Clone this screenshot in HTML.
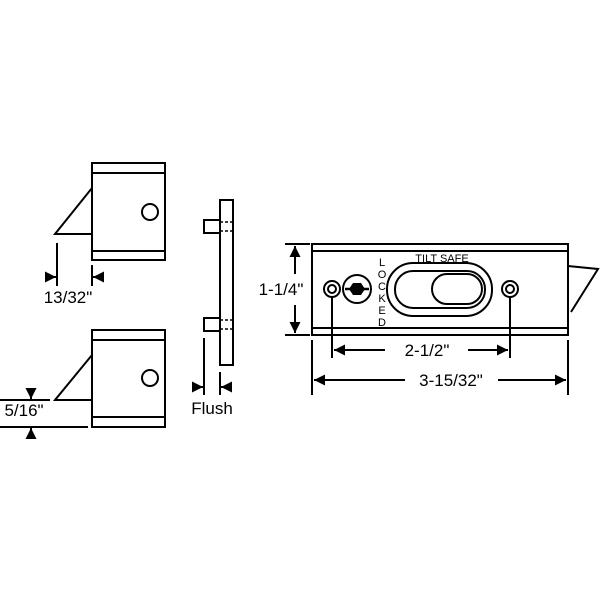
<!DOCTYPE html>
<html><head><style>body{margin:0;background:#fff}svg{display:block}</style></head><body>
<svg width="600" height="600" viewBox="0 0 600 600" xmlns="http://www.w3.org/2000/svg" font-family="Liberation Sans, sans-serif">
<defs>
<marker id="a" viewBox="0 0 10 10" refX="10" refY="5" markerWidth="5.5" markerHeight="5.5" orient="auto-start-reverse"><path d="M0,0L10,5L0,10z" fill="#000"/></marker>
</defs>
<g stroke="#000" stroke-width="2" fill="none">
<rect x="92" y="163" width="73" height="97"/>
<line x1="92" y1="173" x2="165" y2="173"/><line x1="92" y1="251" x2="165" y2="251"/>
<polyline points="92,188 55,234 92,234"/>
<circle cx="150" cy="212" r="8"/>
<line x1="57" y1="243" x2="57" y2="286"/><line x1="92" y1="265" x2="92" y2="286"/>
<line x1="46" y1="277" x2="56" y2="277" marker-end="url(#a)"/>
<line x1="103" y1="277" x2="93" y2="277" marker-end="url(#a)"/>
<rect x="92" y="330" width="73" height="97"/>
<line x1="92" y1="340" x2="165" y2="340"/><line x1="92" y1="417" x2="165" y2="417"/>
<polyline points="92,355 55,400 92,400"/>
<circle cx="150" cy="378" r="8"/>
<line x1="0" y1="400" x2="50" y2="400"/><line x1="0" y1="427" x2="88" y2="427"/>
<line x1="31" y1="392" x2="31" y2="399" marker-end="url(#a)"/>
<line x1="31" y1="435" x2="31" y2="428" marker-end="url(#a)"/>
<rect x="220" y="200" width="13" height="165"/>
<rect x="204" y="220" width="16" height="13"/>
<rect x="204" y="318" width="16" height="13"/>
<g stroke-dasharray="3,2" stroke-width="1.5"><line x1="220" y1="222" x2="233" y2="222"/><line x1="220" y1="231" x2="233" y2="231"/><line x1="220" y1="320" x2="233" y2="320"/><line x1="220" y1="329" x2="233" y2="329"/></g>
<line x1="204" y1="338" x2="204" y2="395"/><line x1="220" y1="372" x2="220" y2="395"/>
<line x1="195" y1="387" x2="203" y2="387" marker-end="url(#a)"/>
<line x1="229" y1="387" x2="221" y2="387" marker-end="url(#a)"/>
<rect x="312" y="244" width="256" height="91"/>
<line x1="312" y1="251" x2="568" y2="251"/><line x1="312" y1="328" x2="568" y2="328"/>
<polyline points="568,266 598,269 571,312"/>
<circle cx="332" cy="289" r="8"/><circle cx="332" cy="289" r="4"/>
<circle cx="510" cy="289" r="8"/><circle cx="510" cy="289" r="4"/>
<circle cx="357" cy="289" r="14"/>
<rect x="387" y="263" width="105" height="53" rx="26"/>
<rect x="395" y="271" width="90" height="37" rx="18"/>
<rect x="432" y="274" width="50" height="30" rx="15"/>
<line x1="285" y1="244" x2="310" y2="244"/><line x1="285" y1="335" x2="310" y2="335"/>
<line x1="295" y1="274" x2="295" y2="246" marker-end="url(#a)"/>
<line x1="295" y1="305" x2="295" y2="333" marker-end="url(#a)"/>
<line x1="332" y1="297" x2="332" y2="358"/><line x1="510" y1="297" x2="510" y2="358"/>
<line x1="385" y1="350" x2="334" y2="350" marker-end="url(#a)"/>
<line x1="468" y1="350" x2="508" y2="350" marker-end="url(#a)"/>
<line x1="312" y1="340" x2="312" y2="395"/><line x1="568" y1="340" x2="568" y2="395"/>
<line x1="405" y1="380" x2="314" y2="380" marker-end="url(#a)"/>
<line x1="498" y1="380" x2="566" y2="380" marker-end="url(#a)"/>
</g>
<path d="M349,289 L353,283 L361,283 L365,289 L361,295 L353,295 Z" fill="#000"/>
<line x1="345" y1="289" x2="369" y2="289" stroke="#000" stroke-width="2.5"/>
<g fill="#000" font-size="17">
<text x="68" y="303" text-anchor="middle">13/32"</text>
<text x="24" y="416" text-anchor="middle">5/16"</text>
<text x="212" y="414" text-anchor="middle">Flush</text>
<text x="281" y="295" text-anchor="middle">1-1/4"</text>
<text x="427" y="356" text-anchor="middle">2-1/2"</text>
<text x="451" y="386" text-anchor="middle">3-15/32"</text>
</g>
<text x="442" y="262" text-anchor="middle" font-size="11" fill="#000">TILT SAFE</text>
<g font-size="11" fill="#000" text-anchor="middle">
<text x="382" y="266">L</text><text x="382" y="278">O</text><text x="382" y="290">C</text><text x="382" y="302">K</text><text x="382" y="314">E</text><text x="382" y="326">D</text>
</g>
</svg>
</body></html>
